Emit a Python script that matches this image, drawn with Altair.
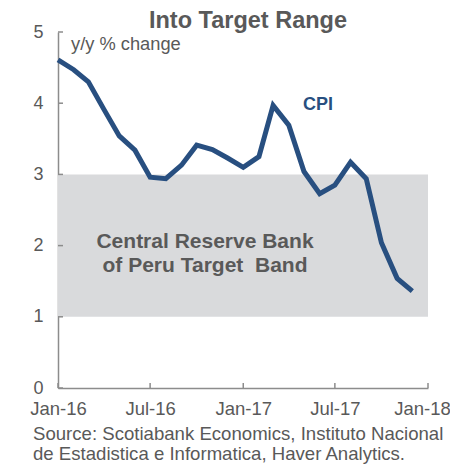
import altair as alt
import pandas as pd

months = ["2016-01", "2016-02", "2016-03", "2016-04", "2016-05", "2016-06",
          "2016-07", "2016-08", "2016-09", "2016-10", "2016-11", "2016-12",
          "2017-01", "2017-02", "2017-03", "2017-04", "2017-05", "2017-06",
          "2017-07", "2017-08", "2017-09", "2017-10", "2017-11", "2017-12"]
cpi = [4.61, 4.47, 4.30, 3.91, 3.54, 3.34, 2.96, 2.94, 3.13, 3.41, 3.35, 3.23,
       3.10, 3.25, 3.97, 3.69, 3.04, 2.73, 2.85, 3.17, 2.94, 2.04, 1.54, 1.36]
band_low, band_high = 1, 3
band_start, band_end = "2016-01", "2018-01"
x_ticks = ["2016-01", "2016-07", "2017-01", "2017-07", "2018-01"]
y_ticks = [0, 1, 2, 3, 4, 5]

W, H = 370, 356
GRAY = "#595959"
AXIS = "#8c8c8c"
BLUE = "#284f80"
FONT = "Liberation Sans"

def d(s):
    return s + "-01T00:00:00"

df = pd.DataFrame({"date": [d(m) for m in months], "cpi": cpi})

xscale = alt.Scale(domain=[alt.DateTime(year=2016, month=1, date=1),
                           alt.DateTime(year=2018, month=1, date=1)])
yscale = alt.Scale(domain=[0, 5], nice=False)

xaxis = alt.Axis(values=[alt.DateTime(year=int(t[:4]), month=int(t[5:]), date=1) for t in x_ticks],
                 format="%b-%y", title=None, grid=False, ticks=False,
                 domainColor=AXIS, domainWidth=1.5, labelColor=GRAY, labelFont=FONT,
                 labelFontSize=18.5, labelPadding=11, labelFlush=False, labelOverlap=False,
                 labelOffset={"condition": {"test": "year(datum.value) == 2018", "value": -6},
                              "value": 0})
yaxis = alt.Axis(values=y_ticks, format="d", title=None, grid=False, ticks=False,
                 domainColor=AXIS, domainWidth=1.5, labelColor=GRAY, labelFont=FONT,
                 labelFontSize=18, labelPadding=15)

band = alt.Chart(pd.DataFrame({"x": [d(band_start)], "x2": [d(band_end)],
                               "y": [band_low], "y2": [band_high]})).mark_rect(
    color="#d9dadc").encode(
    x=alt.X("x:T", scale=xscale, axis=xaxis),
    x2="x2:T",
    y=alt.Y("y:Q", scale=yscale, axis=yaxis),
    y2="y2:Q")

line = alt.Chart(df).mark_line(color=BLUE, strokeWidth=5, strokeJoin="miter",
                               strokeCap="butt").encode(
    x=alt.X("date:T", scale=xscale),
    y=alt.Y("cpi:Q", scale=yscale))

ytick_layer = alt.Chart(pd.DataFrame({"v": y_ticks})).mark_rule(
    color=AXIS, strokeWidth=1.5).encode(
    y=alt.Y("v:Q", scale=yscale), x=alt.value(0), x2=alt.value(5))

xtick_layer = alt.Chart(pd.DataFrame({"t": [d(t) for t in x_ticks]})).mark_rule(
    color=AXIS, strokeWidth=1.5).encode(
    x=alt.X("t:T", scale=xscale), y=alt.value(H), y2=alt.value(H - 5))

def txt(text, x, y, size, bold=False, color=GRAY, align="left"):
    return alt.Chart(pd.DataFrame({"s": [text]})).mark_text(
        font=FONT, fontSize=size, fontWeight="bold" if bold else "normal",
        color=color, align=align, baseline="alphabetic").encode(
        x=alt.value(x), y=alt.value(y), text="s:N")

title = txt("Into Target Range", 190, -4, 23.5, bold=True, align="center")
unit = txt("y/y % change", 13, 18, 18.3)
cpi_lbl = txt("CPI", 245, 78, 18, bold=True, color=BLUE)
band1 = txt("Central Reserve Bank", 147, 216, 21, bold=True, align="center")
band2 = txt("of Peru Target\u00a0 Band", 147, 240, 21, bold=True, align="center")
src1 = txt("Source: Scotiabank Economics, Instituto Nacional", -25, 408, 18.6)
src2 = txt("de Estadistica e Informatica, Haver Analytics.", -25, 428, 18.6)

chart = alt.layer(band, line, ytick_layer, xtick_layer, title, unit, cpi_lbl,
                  band1, band2, src1, src2).properties(
    width=W, height=H,
    autosize=alt.AutoSizeParams(type="none"),
    padding={"left": 50, "top": 24, "right": 22, "bottom": 76},
).configure_view(stroke=None)

chart.save("out.html", embed_options={"renderer": "svg", "actions": False})
